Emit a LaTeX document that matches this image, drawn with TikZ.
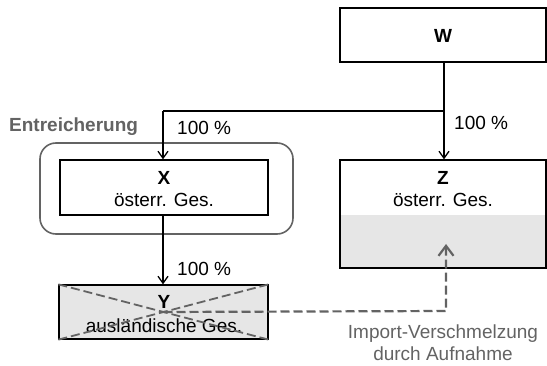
\documentclass[tikz,border=0pt]{standalone}
\usepackage{fontspec}
\setmainfont{Liberation Sans}
\usetikzlibrary{arrows.meta}
\definecolor{dgray}{HTML}{636363}
\definecolor{lgray}{HTML}{E6E6E6}
\begin{document}
\begin{tikzpicture}[x=1pt,y=1pt,
  every node/.style={font=\fontsize{19}{22}\selectfont, inner sep=0pt},
  box/.style={draw=black, line width=1.3pt, rectangle},
  conn/.style={draw=black, line width=1.3pt, -{Straight Barb[length=7pt,width=10pt,line width=1.3pt]}},
  plain/.style={draw=black, line width=1.3pt},
  merge/.style={draw=dgray, line width=2.2pt, dash pattern=on 9pt off 4pt, -{Straight Barb[length=10pt,width=15pt,line width=2.2pt]}},
  cross/.style={draw=dgray, line width=1.8pt, dash pattern=on 9pt off 4pt},
  title/.style={font=\fontsize{19}{22}\selectfont\bfseries},
  note/.style={text=dgray}]
\useasboundingbox (0,0) rectangle (547,-366);
% group
\node[draw=dgray, line width=1.6pt, rounded corners=16pt, minimum width=253pt, minimum height=91pt] (G) at (166.5,-188.5) {};
\node[title, text=dgray, anchor=west] (Gt) at (9,-127) {Entreicherung};
% W
\node[box, minimum width=206pt, minimum height=54pt] (W) at (443,-35) {};
\node[title] (Wt) at (443,-36) {W};
% Z
\fill[lgray] (340,-215) rectangle (546,-268);
\node[box, minimum width=206pt, minimum height=108pt] (Z) at (443,-214) {};
\node[title] (Zt) at (443,-178) {Z};
\node (Zs) at (443,-200) {österr. Ges.};
% X
\node[box, fill=white, minimum width=208pt, minimum height=55pt] (X) at (164,-187.5) {};
\node[title] (Xt) at (164,-178) {X};
\node (Xs) at (164,-200) {österr. Ges.};
% Y
\node[box, fill=lgray, minimum width=209pt, minimum height=54pt] (Y) at (163.5,-312) {};
\node[title] (Yt) at (164,-302) {Y};
\node (Ys) at (164,-326) {ausländische Ges.};
\draw[cross] (Y.north west) -- (Y.south east);
\draw[cross] (Y.south west) -- (Y.north east);
% connectors
\coordinate (J) at (444,-111);
\coordinate (JX) at (163,-111);
\draw[plain] (W.south -| J) -- (J);
\draw[conn] (J) -- (Z.north -| J);
\draw[plain] (J) -- (JX);
\draw[conn] (JX) -- (X.north -| JX);
\draw[conn] (X.south -| JX) -- (Y.north -| JX);
\node[anchor=west] (p1) at (177,-128) {100 \%};
\node[anchor=west] (p2) at (454,-123) {100 \%};
\node[anchor=west] (p3) at (177,-269) {100 \%};
% merger
\coordinate (M) at (446,-311);
\coordinate (MT) at (446,-244);
\draw[merge] (Y.center) -- (M) -- (MT);
\node[note, align=center] (Mt) at (443,-343) {Import-Verschmelzung\\durch Aufnahme};
\end{tikzpicture}
\end{document}
